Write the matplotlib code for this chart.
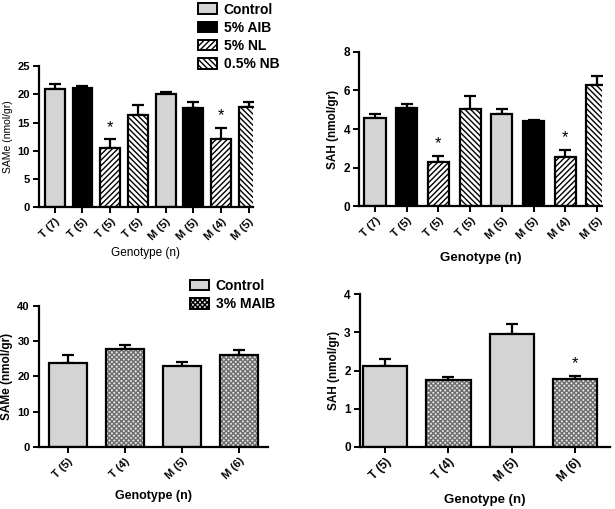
import numpy as np
import matplotlib
matplotlib.use('Agg')
import matplotlib.pyplot as plt
from matplotlib.patches import Patch

plt.rcParams['font.family'] = ['Liberation Sans', 'DejaVu Sans']
plt.rcParams['hatch.linewidth'] = 1.0

# 上面两幅: SAMe / SAH 八组
top_labels = ['T (7)', 'T (5)', 'T (5)', 'T (5)', 'M (5)', 'M (5)', 'M (4)', 'M (5)']
top_groups = ['Control', '5% AIB', '5% NL', '0.5% NB', 'Control', '5% AIB', '5% NL', '0.5% NB']
same_top = [21.0, 21.2, 10.5, 16.3, 20.1, 17.6, 12.1, 17.8]
same_top_err = [0.8, 0.2, 1.6, 1.9, 0.3, 1.1, 2.0, 0.9]
sah_top = [4.55, 5.1, 2.3, 5.05, 4.8, 4.4, 2.55, 6.3]
sah_top_err = [0.25, 0.2, 0.3, 0.65, 0.25, 0.05, 0.35, 0.45]
star_top = [2, 6]

# 下面两幅: SAMe / SAH 四组
bot_labels = ['T (5)', 'T (4)', 'M (5)', 'M (6)']
bot_groups = ['Control', '3% MAIB', 'Control', '3% MAIB']
same_bot = [23.8, 27.8, 23.0, 26.0]
same_bot_err = [2.4, 1.2, 1.0, 1.6]
sah_bot = [2.13, 1.75, 2.97, 1.78]
sah_bot_err = [0.17, 0.07, 0.25, 0.08]
star_bot = [3]

styles = {
    'Control': dict(facecolor='#d4d4d4', hatch=None, hc='black'),
    '5% AIB': dict(facecolor='black', hatch=None, hc='black'),
    '5% NL': dict(facecolor='white', hatch='//////', hc='black'),
    '0.5% NB': dict(facecolor='white', hatch='\\\\\\\\\\\\', hc='black'),
    '3% MAIB': dict(facecolor='#e2e2e2', hatch='xxxxxxx', hc='#6e6e6e'),
}


def draw(ax, labels, groups, vals, errs, stars, width, xlim, ylim, yticks, ylabel,
         bold, fs, xpad):
    x = np.arange(len(vals))
    for i in x:
        st = styles[groups[i]]
        # 先画填充和花纹, 再画黑色边框
        ax.bar(i, vals[i], width=width, color=st['facecolor'], hatch=st['hatch'],
               edgecolor=st['hc'], linewidth=0, zorder=2)
        ax.bar(i, vals[i], width=width, fill=False, edgecolor='black',
               linewidth=1.6, zorder=3)
    ax.errorbar(x, vals, yerr=[np.zeros(len(vals)), errs], fmt='none',
                ecolor='black', elinewidth=1.6, capsize=4.5, capthick=1.6, zorder=1)
    for i in stars:
        ax.text(i, vals[i] + errs[i] + (ylim[1] * 0.03), '*', ha='center', va='bottom',
                fontsize=12)
    ax.set_xlim(*xlim)
    ax.set_ylim(*ylim)
    ax.set_yticks(yticks)
    ax.set_xticks(x)
    ax.set_xticklabels(labels, rotation=45, ha='right', rotation_mode='anchor',
                       fontsize=fs[0], fontweight='bold')
    for t in ax.get_yticklabels():
        t.set_fontsize(fs[1])
        t.set_fontweight('bold')
    ax.spines['top'].set_visible(False)
    ax.spines['right'].set_visible(False)
    ax.spines['left'].set_linewidth(1.6)
    ax.spines['bottom'].set_linewidth(1.6)
    ax.tick_params(width=1.4, length=4.5, pad=2)
    w = 'bold' if bold else 'normal'
    ax.set_ylabel(ylabel, fontsize=fs[2], fontweight=w, labelpad=3)
    ax.set_xlabel('Genotype (n)', fontsize=fs[3], fontweight=w, labelpad=xpad)


fig = plt.figure(figsize=(6.15, 5.09), dpi=100)
ax1 = fig.add_axes([0.063, 0.593, 0.348, 0.277])
ax2 = fig.add_axes([0.584, 0.595, 0.395, 0.303])
ax3 = fig.add_axes([0.063, 0.122, 0.372, 0.277])
ax4 = fig.add_axes([0.585, 0.122, 0.407, 0.300])

draw(ax1, top_labels, top_groups, same_top, same_top_err, star_top, 0.72,
     (-0.58, 7.15), (0, 25), [0, 5, 10, 15, 20, 25], 'SAMe (nmol/gr)', False,
     (8, 8, 7.5, 8.5), 4)
draw(ax2, top_labels, top_groups, sah_top, sah_top_err, star_top, 0.67,
     (-0.5, 7.16), (0, 8), [0, 2, 4, 6, 8], 'SAH (nmol/gr)', True,
     (8, 8.5, 8.5, 9.5), 8)
draw(ax3, bot_labels, bot_groups, same_bot, same_bot_err, [], 0.67,
     (-0.51, 3.5), (0, 40), [0, 10, 20, 30, 40], 'SAMe (nmol/gr)', True,
     (8, 8, 8.5, 9), 6)
draw(ax4, bot_labels, bot_groups, sah_bot, sah_bot_err, star_bot, 0.7,
     (-0.4, 3.55), (0, 4), [0, 1, 2, 3, 4], 'SAH (nmol/gr)', True,
     (8.5, 8.5, 8.5, 9.5), 7)


def legend_handles(names):
    return [Patch(facecolor=styles[n]['facecolor'], hatch=styles[n]['hatch'],
                  edgecolor='black', linewidth=1.4) for n in names]


names1 = ['Control', '5% AIB', '5% NL', '0.5% NB']
fig.legend(legend_handles(names1), names1, loc='upper left',
           bbox_to_anchor=(0.322, 0.995), frameon=False,
           prop={'size': 10, 'weight': 'bold'}, handlelength=1.35, handleheight=0.8,
           labelspacing=0.3, handletextpad=0.5, borderpad=0, borderaxespad=0)

names2 = ['Control', '3% MAIB']
fig.legend(legend_handles(names2), names2, loc='upper left',
           bbox_to_anchor=(0.309, 0.452), frameon=False,
           prop={'size': 10, 'weight': 'bold'}, handlelength=1.35, handleheight=0.8,
           labelspacing=0.3, handletextpad=0.5, borderpad=0, borderaxespad=0)

fig.savefig('out.png', dpi=100)
